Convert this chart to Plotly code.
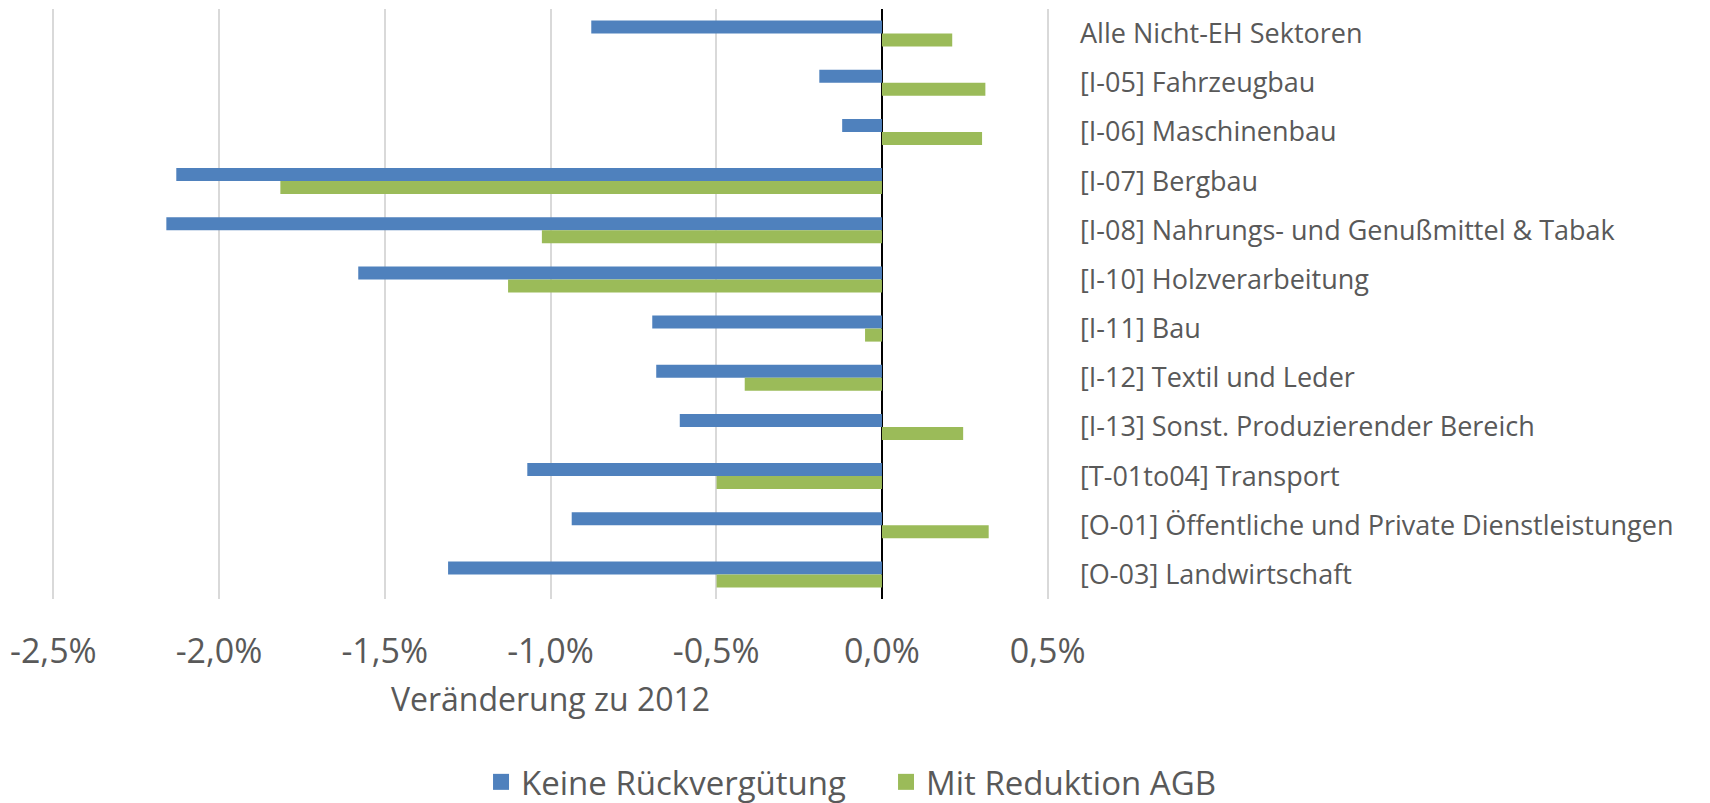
import plotly.graph_objects as go

categories = [
    "Alle Nicht-EH Sektoren",
    "[I-05] Fahrzeugbau",
    "[I-06] Maschinenbau",
    "[I-07] Bergbau",
    "[I-08] Nahrungs- und Genußmittel & Tabak",
    "[I-10] Holzverarbeitung",
    "[I-11] Bau",
    "[I-12] Textil und Leder",
    "[I-13] Sonst. Produzierender Bereich",
    "[T-01to04] Transport",
    "[O-01] Öffentliche und Private Dienstleistungen",
    "[O-03] Landwirtschaft",
]
keine_rueckverguetung = [-0.877, -0.189, -0.120, -2.129, -2.159, -1.580,
                         -0.693, -0.681, -0.610, -1.070, -0.936, -1.309]
mit_reduktion_agb = [0.212, 0.312, 0.302, -1.815, -1.026, -1.128,
                     -0.051, -0.414, 0.245, -0.499, 0.322, -0.499]
series_names = ["Keine Rückvergütung", "Mit Reduktion AGB"]
series_colors = ["#4F81BD", "#9BBB59"]
tick_vals = [-2.5, -2.0, -1.5, -1.0, -0.5, 0.0, 0.5]
tick_text = ["-2,5%", "-2,0%", "-1,5%", "-1,0%", "-0,5%", "0,0%", "0,5%"]

FONT = "Open Sans"
GREY = "#595959"

fig = go.Figure()
for vals, name, col in zip([keine_rueckverguetung, mit_reduktion_agb],
                           series_names, series_colors):
    fig.add_trace(go.Bar(y=categories, x=vals, orientation="h", name=name,
                         marker_color=col, marker_line_width=0,
                         showlegend=False, legendgroup=name))
# legend proxies (no data) to get larger square legend symbols
for name, col in zip(series_names, series_colors):
    fig.add_trace(go.Scatter(x=[None], y=[None], mode="markers", name=name,
                             legendgroup=name,
                             marker=dict(symbol="square", size=16, color=col)))

fig.update_layout(
    width=1710, height=803,
    margin=dict(l=42, r=667, t=1, b=212, autoexpand=False),
    paper_bgcolor="white", plot_bgcolor="white",
    barmode="group", bargap=0.47, bargroupgap=0,
    font=dict(family=FONT, color=GREY),
    showlegend=True,
    legend=dict(orientation="h", x=0.4306, xanchor="left", y=-0.31,
                yanchor="middle", font=dict(size=33, color=GREY),
                traceorder="normal", itemwidth=30, entrywidth=360),
)
fig.update_xaxes(
    range=[-2.51, 0.51], tickvals=tick_vals, ticktext=tick_text,
    showgrid=True, gridcolor="#D9D9D9", gridwidth=1.5,
    zeroline=True, zerolinecolor="black", zerolinewidth=2,
    showline=False, ticks="", tickfont=dict(size=34, color=GREY),
    ticklabelstandoff=29,
    title=dict(text="Veränderung zu 2012", font=dict(size=32, color=GREY),
               standoff=16),
    automargin=False,
)
fig.update_yaxes(
    categoryorder="array", categoryarray=categories, autorange="reversed",
    side="right", showgrid=False, showline=False, ticks="",
    tickfont=dict(size=27, color=GREY), ticklabelstandoff=28,
    automargin=False,
)

fig.write_html("out.html")
